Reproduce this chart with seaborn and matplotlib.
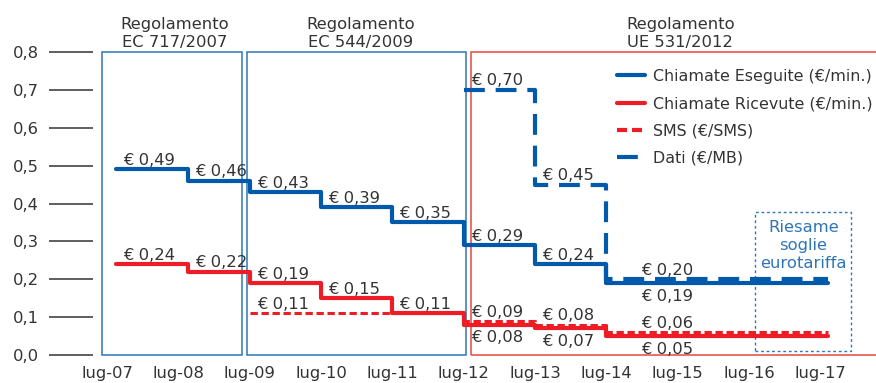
import matplotlib
matplotlib.use("Agg")
import matplotlib.pyplot as plt
import matplotlib.dates as mdates
import matplotlib.transforms as mtransforms
from matplotlib.patches import Rectangle
import seaborn as sns
import pandas as pd

# step dates (start of each tariff) and values
calls_dates = ["2007-08-15", "2008-08-20", "2009-07-01", "2010-07-01", "2011-07-01",
               "2012-07-01", "2013-07-01", "2014-07-01", "2017-08-10"]
calls_out = [0.49, 0.46, 0.43, 0.39, 0.35, 0.29, 0.24, 0.19, 0.19]
calls_in = [0.24, 0.22, 0.19, 0.15, 0.11, 0.08, 0.07, 0.05, 0.05]

sms_dates = ["2009-07-01", "2012-07-01", "2013-07-01", "2014-07-01", "2017-08-10"]
sms = [0.11, 0.09, 0.08, 0.06, 0.06]

data_dates = ["2012-07-01", "2013-07-01", "2014-07-01", "2017-08-10"]
data_mb = [0.70, 0.45, 0.20, 0.20]

tick_dates = ["2007-07-01", "2008-07-01", "2009-07-01", "2010-07-01", "2011-07-01", "2012-07-01",
              "2013-07-01", "2014-07-01", "2015-07-01", "2016-07-01", "2017-07-01"]
tick_labels = ["lug-07", "lug-08", "lug-09", "lug-10", "lug-11", "lug-12",
               "lug-13", "lug-14", "lug-15", "lug-16", "lug-17"]

# regulation periods
reg_names = ["Regolamento\nEC 717/2007", "Regolamento\nEC 544/2009", "Regolamento\nUE 531/2012"]
reg_start = ["2007-06-06", "2009-06-18", "2012-08-08"]
reg_end = ["2009-05-24", "2012-07-12", "2018-06-01"]
reg_title_x = ["2008-06-10", "2011-01-20", "2015-07-15"]
review_start, review_end = "2016-08-03", "2017-12-07"

BLUE = "#0059AA"
RED = "#EE1C25"
BOX_BLUE = "#2E75B6"
BOX_RED = "#E8473C"
TXT = "#333333"
FS = 11.8

sns.set_style("white")
plt.rcParams['font.family'] = ['DejaVu Sans']
plt.rcParams['font.size'] = FS

fig = plt.figure(figsize=(8.76, 3.83), dpi=100)
ax = fig.add_axes([93 / 876, 1 - 355 / 383, 1 - 93 / 876, (355 - 52) / 383])

def mk(dates, vals):
    return pd.DataFrame({"date": pd.to_datetime(dates), "val": vals})

df_out = mk(calls_dates, calls_out)
df_in = mk(calls_dates, calls_in)
df_sms = mk(sms_dates, sms)
df_data = mk(data_dates, data_mb)

sns.lineplot(data=df_out, x="date", y="val", ax=ax, color=BLUE, lw=3.0,
             drawstyle="steps-post", label="Chiamate Eseguite (€/min.)", zorder=4)
sns.lineplot(data=df_in, x="date", y="val", ax=ax, color=RED, lw=3.0,
             drawstyle="steps-post", label="Chiamate Ricevute (€/min.)", zorder=4)
l_sms = sns.lineplot(data=df_sms, x="date", y="val", ax=ax, color=RED, lw=2.2,
                     drawstyle="steps-post", label="SMS (€/SMS)", zorder=5).lines[-1]
l_sms.set_dashes([2.4, 1.2])
l_data = sns.lineplot(data=df_data, x="date", y="val", ax=ax, color=BLUE, lw=3.0,
                      drawstyle="steps-post", label="Dati (€/MB)", zorder=5).lines[-1]
l_data.set_dashes([5, 2.6])

ax.set_xlim(pd.Timestamp("2007-04-20"), pd.Timestamp("2018-04-13"))
ax.set_ylim(0, 0.8)
for s in ax.spines.values():
    s.set_visible(False)

ax.set_yticks([0, 0.1, 0.2, 0.3, 0.4, 0.5, 0.6, 0.7, 0.8])
ax.set_yticklabels(["0,0", "0,1", "0,2", "0,3", "0,4", "0,5", "0,6", "0,7", "0,8"])
ax.tick_params(axis="y", left=True, length=32, width=1.1, color=TXT, pad=7, labelsize=FS, labelcolor=TXT)
ax.set_xticks(pd.to_datetime(tick_dates))
ax.set_xticklabels(tick_labels)
ax.tick_params(axis="x", bottom=False, length=0, pad=8, labelsize=FS, labelcolor=TXT)
ax.set_xlabel("")
ax.set_ylabel("")

# regulation boxes and titles
trans = mtransforms.blended_transform_factory(ax.transData, ax.transAxes)
for i, name in enumerate(reg_names):
    x0 = mdates.date2num(pd.Timestamp(reg_start[i]))
    x1 = mdates.date2num(pd.Timestamp(reg_end[i]))
    ec = BOX_RED if i == 2 else BOX_BLUE
    ax.add_patch(Rectangle((x0, 0), x1 - x0, 0.8, fill=False, ec=ec, lw=1.1, clip_on=False, zorder=2))
    ax.text(mdates.date2num(pd.Timestamp(reg_title_x[i])), 1.006, name, transform=trans,
            ha="center", va="bottom", fontsize=FS, color=TXT, linespacing=1.25)

r0 = mdates.date2num(pd.Timestamp(review_start))
r1 = mdates.date2num(pd.Timestamp(review_end))
ax.add_patch(Rectangle((r0, 0.01), r1 - r0, 0.367, fill=False, ec=BOX_BLUE, lw=1.0,
                       ls=(0, (2, 2)), zorder=3))
ax.text((r0 + r1) / 2, 0.29, "Riesame\nsoglie\neurotariffa", ha="center", va="center",
        color=BOX_BLUE, fontsize=FS, linespacing=1.25, zorder=6)

def fmt(v):
    return "€ " + f"{v:.2f}".replace(".", ",")

# value labels: above the start of each step, below for lower overlapping lines
def label(dates, vals, below_idx=()):
    for i in range(len(vals) - 1):
        d = mdates.date2num(pd.Timestamp(dates[i]))
        dx = 25 if pd.Timestamp(dates[i]).year == 2014 else 5
        if i in below_idx:
            ax.annotate(fmt(vals[i]), (d, vals[i]), xytext=(dx, -4), textcoords="offset points",
                        ha="left", va="top", fontsize=FS, color=TXT, zorder=7)
        else:
            ax.annotate(fmt(vals[i]), (d, vals[i]), xytext=(dx, 1), textcoords="offset points",
                        ha="left", va="bottom", fontsize=FS, color=TXT, zorder=7)

label(calls_dates, calls_out, below_idx=[7])
label(calls_dates, calls_in, below_idx=[5, 6, 7])
label(sms_dates, sms)
label(data_dates, data_mb)

leg = ax.legend(loc="upper left", bbox_to_anchor=((611 - 93) / (876 - 93), 0.965), frameon=False,
                fontsize=11.4, handlelength=1.75, handletextpad=0.5, labelspacing=0.78,
                labelcolor=TXT, borderaxespad=0)
for h in leg.get_lines():
    h.set_linewidth(3.0)

fig.savefig("out.png", dpi=100)
